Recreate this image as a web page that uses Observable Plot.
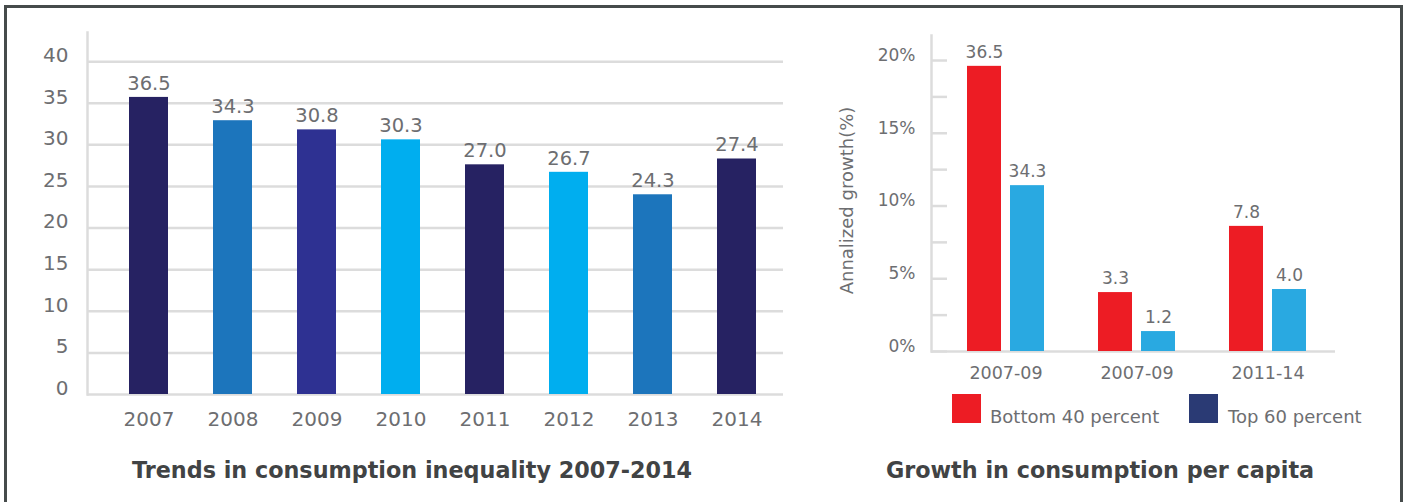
<!DOCTYPE html>
<html>
<head>
<meta charset="utf-8">
<script src="https://cdn.jsdelivr.net/npm/d3@7"></script>
<script src="https://cdn.jsdelivr.net/npm/@observablehq/plot@0.6"></script>
<style>
  html, body { margin: 0; padding: 0; background: #fff; }
  #wrap { position: relative; width: 1405px; height: 502px; overflow: hidden; background: #fff; font-family: "DejaVu Sans", sans-serif; }
  #left, #right { position: absolute; top: 0; }
  #left { left: 0; }
  #right { left: 820px; }
  .border { position: absolute; left: 4px; top: 5px; width: 1393px; height: 520px; border: 3px solid #464b4b; border-bottom: none; pointer-events: none; }
  .title { position: absolute; font-family: "DejaVu Sans", sans-serif; font-weight: 700; font-size: 22.3px; color: #414344; white-space: nowrap; transform: translate(-50%, -50%); }
  .sw { position: absolute; width: 29px; height: 29px; }
  .lt { position: absolute; font-size: 18px; color: #6d6e71; white-space: nowrap; transform: translateY(-50%); }
</style>
</head>
<body>
<div id="wrap">
  <div id="left"></div>
  <div id="right"></div>
  <div class="title" style="left:412px; top:470px;">Trends in consumption inequality 2007-2014</div>
  <div class="title" style="left:1100px; top:470px;">Growth in consumption per capita</div>
  <div class="sw" style="left:952px; top:394px; background:#ed1c24;"></div>
  <div class="lt" style="left:990px; top:416px;">Bottom 40 percent</div>
  <div class="sw" style="left:1189px; top:394px; background:#2a3a74;"></div>
  <div class="lt" style="left:1228px; top:416px;">Top 60 percent</div>
  <div class="border"></div>
</div>
<script>
// ---- Left chart data ----
const years = ["2007", "2008", "2009", "2010", "2011", "2012", "2013", "2014"];
const inequalityBars = [35.7, 32.9, 31.8, 30.6, 27.6, 26.7, 24.0, 28.3];
const inequalityLabels = ["36.5", "34.3", "30.8", "30.3", "27.0", "26.7", "24.3", "27.4"];
const barColors = ["#262262", "#1c75bc", "#2e3192", "#00aeef", "#262262", "#00aeef", "#1c75bc", "#262262"];
const leftTicks = [0, 5, 10, 15, 20, 25, 30, 35, 40];

// ---- Right chart data ----
const periods = ["2007-09", "2007-09", "2011-14"];
const bottom40 = [19.6, 4.05, 8.6];
const top60 = [11.4, 1.37, 4.26];
const bottom40Labels = ["36.5", "3.3", "7.8"];
const top60Labels = ["34.3", "1.2", "4.0"];
const rightMajorTicks = [0, 5, 10, 15, 20];
const rightMinorTicks = [0, 2.5, 5, 7.5, 10, 12.5, 15, 17.5, 20];
const yLabel = "Annalized growth(%)";

const textColor = "#6d6e71";
const gridColor = "#dcdcdc";

const leftData = years.map((y, i) => ({year: y, value: inequalityBars[i], label: inequalityLabels[i], color: barColors[i]}));

const left = Plot.plot({
  width: 800,
  height: 440,
  marginLeft: 87,
  marginRight: 17,
  marginTop: 32,
  marginBottom: 46,
  style: {fontFamily: "DejaVu Sans", fontSize: "20px", color: textColor, background: "transparent"},
  x: {domain: years, paddingInner: 0.537, paddingOuter: 0.4, align: 0.61, label: null},
  y: {domain: [0, 43.5], label: null},
  color: {type: "identity"},
  marks: [
    Plot.ruleY(leftTicks, {stroke: gridColor, strokeWidth: 2.5}),
    Plot.frame({anchor: "left", stroke: gridColor, strokeWidth: 2.5}),
    Plot.barY(leftData, {x: "year", y: "value", fill: "color"}),
    Plot.text(leftData, {x: "year", y: "value", text: "label", dy: -14, lineAnchor: "middle", fill: textColor, fontSize: 19.5}),
    Plot.axisX({tickSize: 0, tickPadding: 17, fontSize: 20, fill: textColor}),
    Plot.axisY(leftTicks, {tickSize: 0, tickPadding: 19, dy: -6, fontSize: 20, fill: textColor})
  ]
});
document.getElementById("left").appendChild(left);

const rightData = periods.map((p, i) => ({i, period: p, b: bottom40[i], t: top60[i], bl: bottom40Labels[i], tl: top60Labels[i]}));

const right = Plot.plot({
  width: 585,
  height: 440,
  marginLeft: 111,
  marginRight: 70,
  marginTop: 35,
  marginBottom: 89,
  style: {fontFamily: "DejaVu Sans", fontSize: "17px", color: textColor, background: "transparent"},
  x: {domain: [0, 1, 2], paddingInner: 0.4144, paddingOuter: 0.243, align: 0.547, label: null},
  y: {domain: [0, 21.72], label: null},
  marks: [
    Plot.frame({anchor: "left", stroke: gridColor, strokeWidth: 2.5}),
    Plot.ruleY([0], {stroke: gridColor, strokeWidth: 2.5}),
    Plot.axisY(rightMinorTicks, {tickSize: 16, dx: 16, stroke: gridColor, strokeWidth: 2.5, tickFormat: () => ""}),
    Plot.barY(rightData, {x: "i", y: "b", fill: "#ed1c24", insetRight: 43}),
    Plot.barY(rightData, {x: "i", y: "t", fill: "#29a9e1", insetLeft: 43}),
    Plot.text(rightData, {x: "i", y: "b", text: "bl", dx: -21.5, dy: -14, lineAnchor: "middle", fill: textColor, fontSize: 17}),
    Plot.text(rightData, {x: "i", y: "t", text: "tl", dx: 21.5, dy: -14, lineAnchor: "middle", fill: textColor, fontSize: 17}),
    Plot.axisX({tickSize: 0, tickPadding: 15, fontSize: 17.5, fill: textColor, tickFormat: i => periods[i]}),
    Plot.axisY(rightMajorTicks, {tickSize: 0, tickPadding: 16, dy: -5, fontSize: 17, fill: textColor, tickFormat: d => d + "%"}),
    Plot.text([yLabel], {frameAnchor: "left", text: d => d, rotate: -90, dx: -84, dy: 7, fontSize: 18, fill: textColor, textAnchor: "middle", lineAnchor: "middle"})
  ]
});
document.getElementById("right").appendChild(right);
</script>
</body>
</html>
